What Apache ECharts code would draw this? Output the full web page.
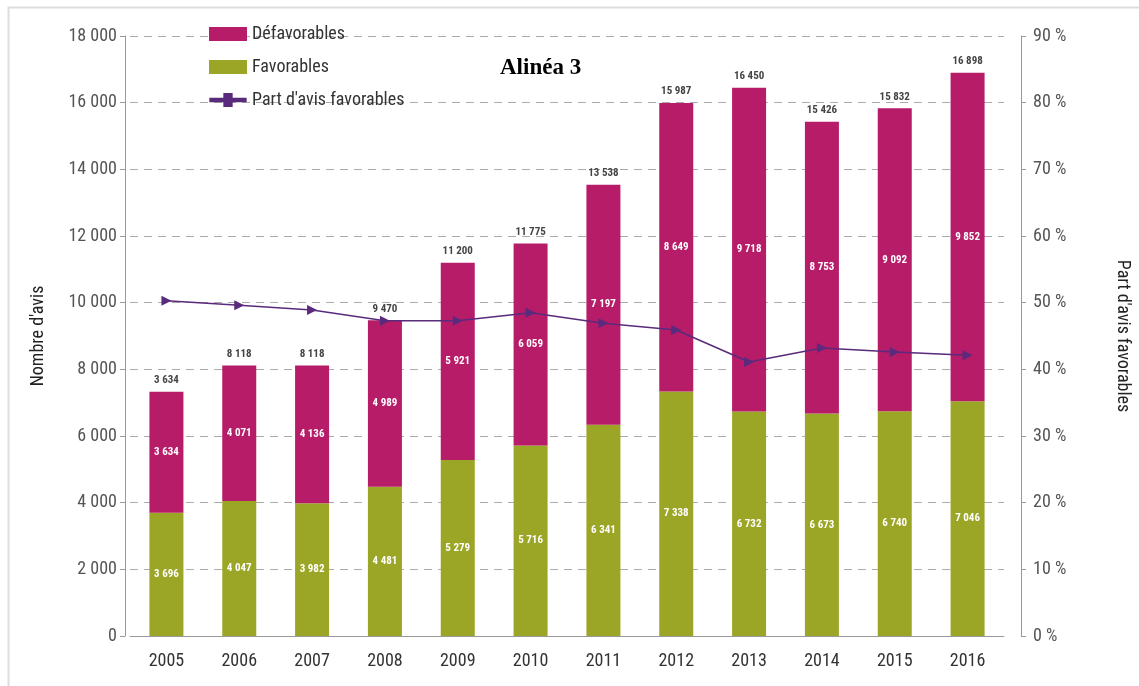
<!DOCTYPE html>
<html>
<head>
<meta charset="utf-8">
<script src="https://cdn.jsdelivr.net/npm/echarts@6/dist/echarts.min.js"></script>
<style>
  html, body { margin: 0; padding: 0; background: #fff; }
  #chart { width: 1139px; height: 686px; }
</style>
</head>
<body>
<div id="chart"></div>
<script>
const years = ["2005", "2006", "2007", "2008", "2009", "2010", "2011", "2012", "2013", "2014", "2015", "2016"];
const favorables = [3696, 4047, 3982, 4481, 5279, 5716, 6341, 7338, 6732, 6673, 6740, 7046];
const defavorables = [3634, 4071, 4136, 4989, 5921, 6059, 7197, 8649, 9718, 8753, 9092, 9852];
// totals printed above the bars, as shown in the source (2005 reads "3 634")
const topLabels = ["3 634", "8 118", "8 118", "9 470", "11 200", "11 775", "13 538", "15 987", "16 450", "15 426", "15 832", "16 898"];
const partFavorables = [50.3, 49.6, 48.9, 47.3, 47.3, 48.5, 46.9, 45.9, 41.1, 43.2, 42.6, 42.1];
const leftTicks = [0, 2000, 4000, 6000, 8000, 10000, 12000, 14000, 16000, 18000];

const FONT = '"Liberation Sans Narrow", "Roboto Condensed", "Arial Narrow", sans-serif';
const MAGENTA = "#b71c69";
const GREEN = "#9ba626";
const PURPLE = "#5a2a7c";
// thick bar with a square in the middle, as in the legend of the source
const LINE_ICON = "path://M0,5 L15,5 L15,0 L25,0 L25,5 L40,5 L40,10 L25,10 L25,15 L15,15 L15,10 L0,10 Z";

const fmt = (v) => String(v).replace(/\B(?=(\d{3})+(?!\d))/g, " ");

const chart = echarts.init(document.getElementById("chart"));

chart.setOption({
  animation: false,
  textStyle: { fontFamily: FONT },
  grid: { left: 130, right: 121, top: 36, bottom: 50, containLabel: false },
  legend: {
    orient: "vertical",
    left: 204,
    top: 20,
    itemGap: 15,
    itemWidth: 38,
    itemHeight: 14,
    textStyle: { fontFamily: FONT, fontSize: 18, color: "#333" },
    data: [
      { name: "Défavorables", icon: "rect" },
      { name: "Favorables", icon: "rect" },
      { name: "Part d'avis favorables", icon: LINE_ICON, itemStyle: { color: PURPLE } },
    ],
  },
  graphic: [
    {
      type: "rect",
      left: 6, top: 5,
      shape: { width: 1140, height: 700 },
      style: { fill: "none", stroke: "#dddddd", lineWidth: 2 },
      silent: true,
    },
    {
      type: "text",
      left: 500, top: 57,
      style: { text: "Alinéa 3", font: 'bold 23px "Liberation Serif", "Times New Roman", serif', fill: "#000" },
    },
  ],
  xAxis: {
    type: "category",
    data: years,
    axisLine: { show: true, lineStyle: { color: "#999", width: 1 } },
    axisTick: { show: false },
    axisLabel: { fontFamily: FONT, fontSize: 18, color: "#333", margin: 16 },
  },
  yAxis: [
    {
      type: "value",
      min: 0,
      max: 18000,
      interval: 2000,
      offset: 5,
      name: "Nombre d'avis",
      nameLocation: "middle",
      nameGap: 78,
      nameRotate: 90,
      nameTextStyle: { fontFamily: FONT, fontSize: 18, color: "#222" },
      axisLine: { show: true, lineStyle: { color: "#999" } },
      axisTick: { show: true, length: 5, lineStyle: { color: "#999" } },
      axisLabel: {
        fontFamily: FONT, fontSize: 18, color: "#555", margin: 8,
        formatter: (v) => (leftTicks.includes(v) ? fmt(v) : ""),
      },
      splitLine: { show: true, lineStyle: { color: "#aaa", type: [8, 6], width: 1 } },
    },
    {
      type: "value",
      min: 0,
      max: 90,
      interval: 10,
      offset: 17,
      position: "right",
      name: "Part d'avis favorables",
      nameLocation: "middle",
      nameGap: 92,
      nameRotate: -90,
      nameTextStyle: { fontFamily: FONT, fontSize: 18, color: "#222" },
      axisLine: { show: true, lineStyle: { color: "#999" } },
      axisTick: { show: true, inside: false, length: 5, lineStyle: { color: "#999" } },
      axisLabel: { fontFamily: FONT, fontSize: 18, color: "#555", margin: 12, formatter: (v) => v + " %" },
      splitLine: { show: false },
    },
  ],
  series: [
    {
      name: "Favorables",
      type: "bar",
      stack: "avis",
      barWidth: 34,
      data: favorables,
      itemStyle: { color: GREEN },
      label: {
        show: true,
        position: "inside",
        color: "#fff",
        fontFamily: FONT,
        fontWeight: "bold",
        fontSize: 11,
        formatter: (p) => fmt(p.value),
      },
    },
    {
      name: "Défavorables",
      type: "bar",
      stack: "avis",
      barWidth: 34,
      data: defavorables,
      itemStyle: { color: MAGENTA },
      label: {
        show: true,
        position: "inside",
        color: "#fff",
        fontFamily: FONT,
        fontWeight: "bold",
        fontSize: 11,
        formatter: (p) => fmt(p.value),
      },
    },
    {
      // invisible carrier for the totals above each bar
      name: "totals",
      type: "bar",
      stack: "avis",
      barWidth: 34,
      data: years.map(() => 0),
      itemStyle: { color: "transparent" },
      legendHoverLink: false,
      label: {
        show: true,
        position: "top",
        distance: 6,
        color: "#444",
        fontFamily: FONT,
        fontWeight: "bold",
        fontSize: 11,
        formatter: (p) => topLabels[p.dataIndex],
      },
    },
    {
      name: "Part d'avis favorables",
      type: "line",
      yAxisIndex: 1,
      data: partFavorables,
      symbol: "triangle",
      symbolSize: 10,
      symbolRotate: -90,
      lineStyle: { color: PURPLE, width: 1.5 },
      itemStyle: { color: PURPLE },
      z: 5,
    },
  ],
});
</script>
</body>
</html>
